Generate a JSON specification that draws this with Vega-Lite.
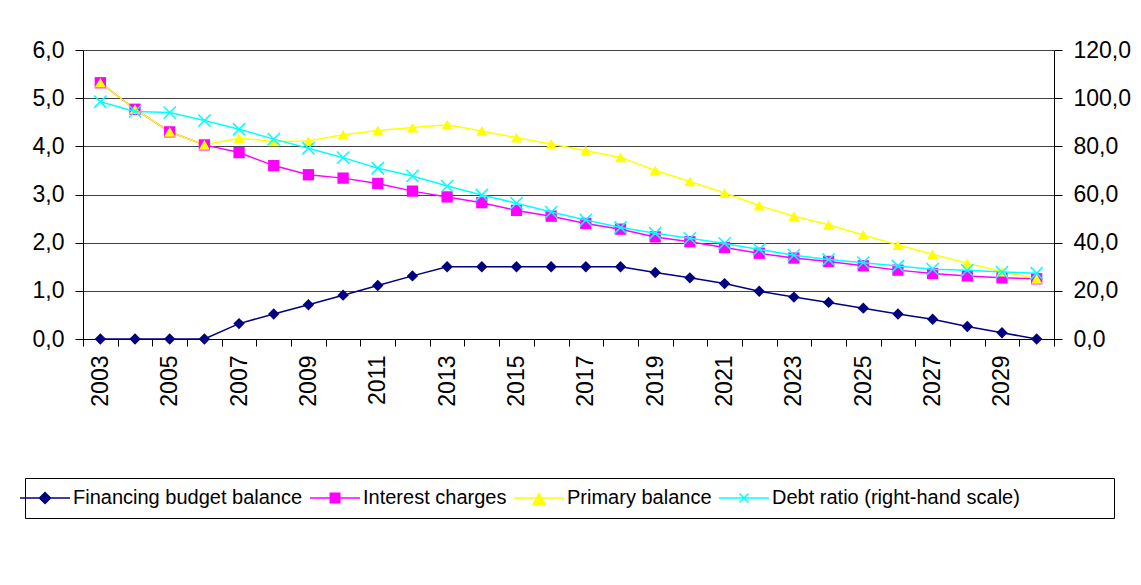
{
  "$schema": "https://vega.github.io/schema/vega-lite/v6.json",
  "width": 971,
  "height": 289,
  "autosize": "none",
  "padding": {"left": 83, "top": 50, "right": 87, "bottom": 246},
  "background": "white",
  "config": {
    "view": {"stroke": null},
    "font": "Liberation Sans",
    "axis": {
      "labelFont": "Liberation Sans",
      "labelFontSize": 23,
      "labelColor": "#000",
      "domainColor": "#000",
      "domainWidth": 1,
      "tickColor": "#000",
      "tickWidth": 1,
      "title": null
    }
  },
  "data": {
    "values": [
      {"year": 2003, "series": "Financing budget balance", "value": 0},
      {"year": 2004, "series": "Financing budget balance", "value": 0},
      {"year": 2005, "series": "Financing budget balance", "value": 0},
      {"year": 2006, "series": "Financing budget balance", "value": 0},
      {"year": 2007, "series": "Financing budget balance", "value": 0.32},
      {"year": 2008, "series": "Financing budget balance", "value": 0.52},
      {"year": 2009, "series": "Financing budget balance", "value": 0.71},
      {"year": 2010, "series": "Financing budget balance", "value": 0.91},
      {"year": 2011, "series": "Financing budget balance", "value": 1.11},
      {"year": 2012, "series": "Financing budget balance", "value": 1.31},
      {"year": 2013, "series": "Financing budget balance", "value": 1.5},
      {"year": 2014, "series": "Financing budget balance", "value": 1.5},
      {"year": 2015, "series": "Financing budget balance", "value": 1.5},
      {"year": 2016, "series": "Financing budget balance", "value": 1.5},
      {"year": 2017, "series": "Financing budget balance", "value": 1.5},
      {"year": 2018, "series": "Financing budget balance", "value": 1.5},
      {"year": 2019, "series": "Financing budget balance", "value": 1.38},
      {"year": 2020, "series": "Financing budget balance", "value": 1.27},
      {"year": 2021, "series": "Financing budget balance", "value": 1.15},
      {"year": 2022, "series": "Financing budget balance", "value": 0.99},
      {"year": 2023, "series": "Financing budget balance", "value": 0.87},
      {"year": 2024, "series": "Financing budget balance", "value": 0.76},
      {"year": 2025, "series": "Financing budget balance", "value": 0.64},
      {"year": 2026, "series": "Financing budget balance", "value": 0.52},
      {"year": 2027, "series": "Financing budget balance", "value": 0.41},
      {"year": 2028, "series": "Financing budget balance", "value": 0.26},
      {"year": 2029, "series": "Financing budget balance", "value": 0.13},
      {"year": 2030, "series": "Financing budget balance", "value": 0},
      {"year": 2003, "series": "Interest charges", "value": 5.32},
      {"year": 2004, "series": "Interest charges", "value": 4.77},
      {"year": 2005, "series": "Interest charges", "value": 4.30},
      {"year": 2006, "series": "Interest charges", "value": 4.03},
      {"year": 2007, "series": "Interest charges", "value": 3.87},
      {"year": 2008, "series": "Interest charges", "value": 3.60},
      {"year": 2009, "series": "Interest charges", "value": 3.41},
      {"year": 2010, "series": "Interest charges", "value": 3.34},
      {"year": 2011, "series": "Interest charges", "value": 3.23},
      {"year": 2012, "series": "Interest charges", "value": 3.07},
      {"year": 2013, "series": "Interest charges", "value": 2.95},
      {"year": 2014, "series": "Interest charges", "value": 2.83},
      {"year": 2015, "series": "Interest charges", "value": 2.67},
      {"year": 2016, "series": "Interest charges", "value": 2.55},
      {"year": 2017, "series": "Interest charges", "value": 2.40},
      {"year": 2018, "series": "Interest charges", "value": 2.28},
      {"year": 2019, "series": "Interest charges", "value": 2.12},
      {"year": 2020, "series": "Interest charges", "value": 2.02},
      {"year": 2021, "series": "Interest charges", "value": 1.90},
      {"year": 2022, "series": "Interest charges", "value": 1.78},
      {"year": 2023, "series": "Interest charges", "value": 1.68},
      {"year": 2024, "series": "Interest charges", "value": 1.61},
      {"year": 2025, "series": "Interest charges", "value": 1.52},
      {"year": 2026, "series": "Interest charges", "value": 1.43},
      {"year": 2027, "series": "Interest charges", "value": 1.36},
      {"year": 2028, "series": "Interest charges", "value": 1.31},
      {"year": 2029, "series": "Interest charges", "value": 1.27},
      {"year": 2030, "series": "Interest charges", "value": 1.25},
      {"year": 2003, "series": "Primary balance", "value": 5.32},
      {"year": 2004, "series": "Primary balance", "value": 4.77},
      {"year": 2005, "series": "Primary balance", "value": 4.30},
      {"year": 2006, "series": "Primary balance", "value": 4.03},
      {"year": 2007, "series": "Primary balance", "value": 4.17},
      {"year": 2008, "series": "Primary balance", "value": 4.10},
      {"year": 2009, "series": "Primary balance", "value": 4.11},
      {"year": 2010, "series": "Primary balance", "value": 4.24},
      {"year": 2011, "series": "Primary balance", "value": 4.33},
      {"year": 2012, "series": "Primary balance", "value": 4.39},
      {"year": 2013, "series": "Primary balance", "value": 4.45},
      {"year": 2014, "series": "Primary balance", "value": 4.32},
      {"year": 2015, "series": "Primary balance", "value": 4.18},
      {"year": 2016, "series": "Primary balance", "value": 4.05},
      {"year": 2017, "series": "Primary balance", "value": 3.91},
      {"year": 2018, "series": "Primary balance", "value": 3.77},
      {"year": 2019, "series": "Primary balance", "value": 3.50},
      {"year": 2020, "series": "Primary balance", "value": 3.27},
      {"year": 2021, "series": "Primary balance", "value": 3.03},
      {"year": 2022, "series": "Primary balance", "value": 2.77},
      {"year": 2023, "series": "Primary balance", "value": 2.55},
      {"year": 2024, "series": "Primary balance", "value": 2.37},
      {"year": 2025, "series": "Primary balance", "value": 2.16},
      {"year": 2026, "series": "Primary balance", "value": 1.95},
      {"year": 2027, "series": "Primary balance", "value": 1.76},
      {"year": 2028, "series": "Primary balance", "value": 1.57},
      {"year": 2029, "series": "Primary balance", "value": 1.40},
      {"year": 2030, "series": "Primary balance", "value": 1.25},
      {"year": 2003, "series": "Debt ratio (right-hand scale)", "value": 98.5},
      {"year": 2004, "series": "Debt ratio (right-hand scale)", "value": 94.5},
      {"year": 2005, "series": "Debt ratio (right-hand scale)", "value": 94.0},
      {"year": 2006, "series": "Debt ratio (right-hand scale)", "value": 90.7},
      {"year": 2007, "series": "Debt ratio (right-hand scale)", "value": 87.1},
      {"year": 2008, "series": "Debt ratio (right-hand scale)", "value": 83.0},
      {"year": 2009, "series": "Debt ratio (right-hand scale)", "value": 79.2},
      {"year": 2010, "series": "Debt ratio (right-hand scale)", "value": 75.3},
      {"year": 2011, "series": "Debt ratio (right-hand scale)", "value": 70.9},
      {"year": 2012, "series": "Debt ratio (right-hand scale)", "value": 67.7},
      {"year": 2013, "series": "Debt ratio (right-hand scale)", "value": 63.5},
      {"year": 2014, "series": "Debt ratio (right-hand scale)", "value": 59.8},
      {"year": 2015, "series": "Debt ratio (right-hand scale)", "value": 56.4},
      {"year": 2016, "series": "Debt ratio (right-hand scale)", "value": 52.7},
      {"year": 2017, "series": "Debt ratio (right-hand scale)", "value": 49.4},
      {"year": 2018, "series": "Debt ratio (right-hand scale)", "value": 46.3},
      {"year": 2019, "series": "Debt ratio (right-hand scale)", "value": 43.9},
      {"year": 2020, "series": "Debt ratio (right-hand scale)", "value": 41.8},
      {"year": 2021, "series": "Debt ratio (right-hand scale)", "value": 39.7},
      {"year": 2022, "series": "Debt ratio (right-hand scale)", "value": 37.2},
      {"year": 2023, "series": "Debt ratio (right-hand scale)", "value": 34.8},
      {"year": 2024, "series": "Debt ratio (right-hand scale)", "value": 33.0},
      {"year": 2025, "series": "Debt ratio (right-hand scale)", "value": 31.7},
      {"year": 2026, "series": "Debt ratio (right-hand scale)", "value": 30.3},
      {"year": 2027, "series": "Debt ratio (right-hand scale)", "value": 29.0},
      {"year": 2028, "series": "Debt ratio (right-hand scale)", "value": 28.5},
      {"year": 2029, "series": "Debt ratio (right-hand scale)", "value": 27.8},
      {"year": 2030, "series": "Debt ratio (right-hand scale)", "value": 27.3}
    ]
  },
  "encoding": {
    "x": {
      "field": "year",
      "type": "ordinal",
      "bandPosition": 0.5,
      "scale": {"type": "band", "paddingInner": 0, "paddingOuter": 0},
      "axis": {
        "labelAngle": -90,
        "tickBand": "extent",
        "tickSize": 7,
        "labelPadding": 9,
        "labelFontSize": 23,
        "labelExpr": "datum.value % 2 === 1 ? datum.label : ''"
      }
    },
    "color": {
      "field": "series",
      "type": "nominal",
      "scale": {
        "domain": ["Financing budget balance", "Interest charges", "Primary balance", "Debt ratio (right-hand scale)"],
        "range": ["#000080", "#FF00FF", "#FFFF00", "#00FFFF"]
      },
      "legend": {
        "title": null,
        "orient": "none",
        "legendX": -58,
        "legendY": 428,
        "direction": "horizontal",
        "columns": 4,
        "columnPadding": 4,
        "padding": 10,
        "strokeColor": "#000",
        "fillColor": "#fff",
        "labelFont": "Liberation Sans",
        "labelFontSize": 20,
        "labelColor": "#000",
        "labelLimit": 600,
        "labelOffset": 18,
        "labelExpr": "datum.label === 'Debt ratio (right-hand scale)' ? datum.label + '\u00a0\u00a0\u00a0\u00a0\u00a0\u00a0\u00a0\u00a0\u00a0\u00a0\u00a0\u00a0\u00a0\u00a0\u00a0\u200b' : datum.label",
        "symbolSize": 100,
        "symbolStrokeWidth": 1.5,
        "encode": {
          "symbols": {
            "update": {
              "shape": {"signal": "datum.value === 'Financing budget balance' ? 'M-5,0L5,0M-1.1,0L0,-1.1L1.1,0L0,1.1Z' : datum.value === 'Interest charges' ? 'M-5,0L5,0M-0.95,-0.95L0.95,-0.95L0.95,0.95L-0.95,0.95Z' : datum.value === 'Primary balance' ? 'M-5,0L5,0M-1.2,1.3L0,-0.9L1.2,1.3Z' : 'M-5,0L5,0M-0.9,-0.9L0.9,0.9M-0.9,0.9L0.9,-0.9'"},
              "stroke": {"scale": "color", "field": "value"},
              "fill": {"scale": "color", "field": "value"},
              "strokeWidth": {"value": 1.5},
              "opacity": {"value": 1},
              "size": {"value": 100}
            }
          }
        }
      }
    }
  },
  "layer": [
    {
      "transform": [{"filter": "datum.series !== 'Debt ratio (right-hand scale)'"}],
      "encoding": {
        "y": {
          "field": "value",
          "type": "quantitative",
          "scale": {"domain": [0, 6], "nice": false, "zero": true},
          "axis": {
            "orient": "left",
            "values": [0, 1, 2, 3, 4, 5, 6],
            "tickSize": 8,
            "labelPadding": 11,
            "grid": true,
            "gridColor": "#404040",
            "gridWidth": 1,
            "labelExpr": "replace(format(datum.value, '.1f'), '.', ',')"
          }
        }
      },
      "layer": [
        {"mark": {"type": "line", "strokeWidth": 1.5}},
        {
          "mark": {"type": "point", "filled": true, "opacity": 1},
          "encoding": {
            "shape": {
              "field": "series",
              "type": "nominal",
              "scale": {
                "domain": ["Financing budget balance", "Interest charges", "Primary balance"],
                "range": ["diamond", "square", "triangle-up"]
              },
              "legend": null
            },
            "size": {
              "field": "series",
              "type": "nominal",
              "scale": {
                "domain": ["Financing budget balance", "Interest charges", "Primary balance"],
                "range": [130, 125, 190]
              },
              "legend": null
            }
          }
        }
      ]
    },
    {
      "transform": [{"filter": "datum.series === 'Debt ratio (right-hand scale)'"}],
      "encoding": {
        "y": {
          "field": "value",
          "type": "quantitative",
          "scale": {"domain": [0, 120], "nice": false, "zero": true},
          "axis": {
            "orient": "right",
            "values": [0, 20, 40, 60, 80, 100, 120],
            "tickSize": 8,
            "labelPadding": 11,
            "grid": false,
            "labelExpr": "replace(format(datum.value, '.1f'), '.', ',')"
          }
        }
      },
      "layer": [
        {"mark": {"type": "line", "strokeWidth": 1.5}},
        {
          "mark": {
            "type": "point",
            "shape": "M-1,-1L1,1M-1,1L1,-1",
            "filled": false,
            "strokeWidth": 1.5,
            "size": 150,
            "opacity": 1
          }
        }
      ]
    }
  ],
  "resolve": {"scale": {"y": "independent"}}
}
